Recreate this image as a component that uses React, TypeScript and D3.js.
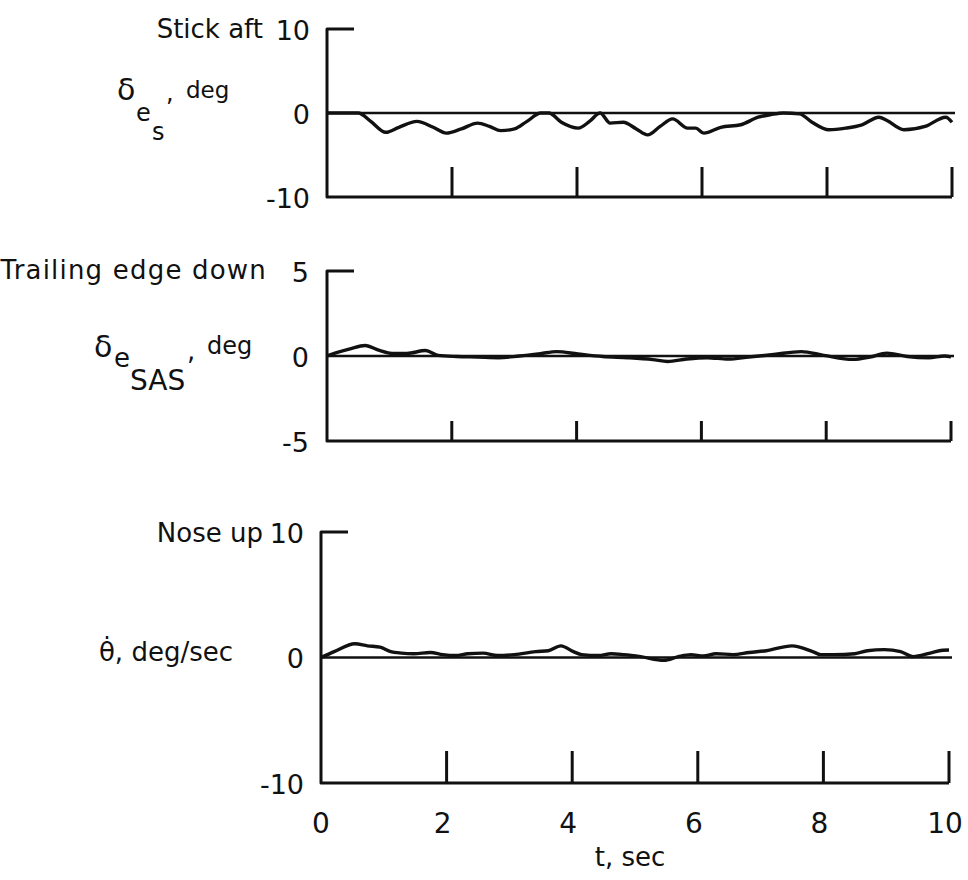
import React from 'react';
import * as d3 from 'd3';

// time axis
const xTicks = [0, 2, 4, 6, 8, 10];
const xTickLabels = ['0', '2', '4', '6', '8', '10'];

// stick deflection, deg
const stickT = [0, 0.5, 0.7, 0.94, 1.15, 1.44, 1.7, 1.91, 2.15, 2.41, 2.6, 2.78, 3.0, 3.2, 3.42, 3.55, 3.75, 4.02, 4.2, 4.37, 4.53, 4.74, 4.95, 5.13, 5.33, 5.53, 5.77, 5.9, 6.03, 6.3, 6.62, 6.9, 7.1, 7.3, 7.56, 7.76, 8.03, 8.3, 8.56, 8.83, 8.96, 9.23, 9.57, 9.9, 10];
const stickV = [0, 0, -1.0, -2.3, -1.7, -1.0, -1.7, -2.4, -1.9, -1.2, -1.6, -2.1, -1.9, -1.0, 0, 0, -1.1, -1.8, -1.0, 0, -1.2, -1.1, -1.9, -2.6, -1.6, -0.7, -1.8, -1.8, -2.4, -1.7, -1.4, -0.5, -0.2, 0, -0.1, -1.1, -2.0, -1.8, -1.4, -0.5, -0.9, -2.0, -1.6, -0.5, -1.1];

// SAS elevator, deg
const sasT = [0, 0.14, 0.37, 0.61, 0.84, 1.04, 1.28, 1.58, 1.78, 2.08, 2.41, 2.75, 3.08, 3.42, 3.68, 4.02, 4.42, 4.82, 5.22, 5.46, 5.76, 6.09, 6.43, 6.76, 7.16, 7.6, 7.96, 8.43, 8.7, 8.97, 9.3, 9.64, 9.9, 10];
const sasV = [0, 0.18, 0.42, 0.62, 0.33, 0.15, 0.15, 0.32, 0.04, -0.03, -0.06, -0.1, 0, 0.14, 0.26, 0.12, -0.03, -0.1, -0.21, -0.32, -0.18, -0.1, -0.18, -0.06, 0.09, 0.26, 0.04, -0.2, -0.06, 0.17, -0.03, -0.1, 0, -0.05];

// pitch rate, deg/sec
const rateT = [0, 0.21, 0.54, 0.74, 0.94, 1.11, 1.28, 1.48, 1.74, 1.94, 2.14, 2.34, 2.58, 2.81, 3.08, 3.42, 3.62, 3.82, 4.02, 4.15, 4.42, 4.62, 4.82, 5.09, 5.46, 5.69, 5.89, 6.09, 6.29, 6.56, 6.82, 7.09, 7.5, 7.83, 7.96, 8.16, 8.5, 8.7, 8.97, 9.23, 9.43, 9.7, 9.9, 10];
const rateV = [0, 0.47, 1.1, 0.93, 0.82, 0.47, 0.35, 0.3, 0.4, 0.23, 0.16, 0.3, 0.35, 0.16, 0.23, 0.47, 0.54, 0.93, 0.47, 0.23, 0.16, 0.3, 0.23, 0.07, -0.23, 0.07, 0.23, 0.12, 0.3, 0.23, 0.4, 0.54, 0.93, 0.47, 0.23, 0.23, 0.3, 0.54, 0.63, 0.47, 0.07, 0.35, 0.58, 0.6];

const FONT = "'DejaVu Sans', sans-serif";
const INK = '#111';

interface PanelProps {
    t: number[];
    v: number[];
    yMax: number;
    left: number;
    right: number;
    top: number;
    bottom: number;
    tickLen: number;
    labelEnd: number;
    yLabels: string[];
}

const Panel: React.FC<PanelProps> = ({ t, v, yMax, left, right, top, bottom, tickLen, labelEnd, yLabels }) => {
    const x = d3.scaleLinear().domain([0, 10]).range([left, right]);
    const y = d3.scaleLinear().domain([-yMax, yMax]).range([bottom, top]);
    const pts: [number, number][] = t.map((d, i) => [d, v[i]]);
    const line = d3.line<[number, number]>()
        .x(d => x(d[0]))
        .y(d => y(d[1]))
        .curve(d3.curveMonotoneX);

    // short stub at the top, left axis, bottom axis
    const frame = `M${left + 27},${y(yMax)}H${left}V${y(-yMax)}H${x(10)}`;
    const yVals = [yMax, 0, -yMax];

    return (
        <g>
            <path d={frame} fill="none" stroke={INK} strokeWidth={3} strokeLinejoin="round" />
            {xTicks.slice(1).map(d => (
                <line key={d} x1={x(d)} x2={x(d)} y1={y(-yMax)} y2={y(-yMax) - tickLen}
                    stroke={INK} strokeWidth={3} />
            ))}
            <line x1={left} x2={right + 3} y1={y(0)} y2={y(0)} stroke={INK} strokeWidth={2.5} />
            <path d={line(pts) || ''} fill="none" stroke={INK} strokeWidth={3.4} strokeLinejoin="round" />
            {yVals.map((d, i) => (
                <text key={d} x={labelEnd} y={y(d) + 1} textAnchor="end" dominantBaseline="central"
                    fontFamily={FONT} fontSize={27} fill={INK}>{yLabels[i]}</text>
            ))}
        </g>
    );
};

const App: React.FC = () => {
    const xAxis = d3.scaleLinear().domain([0, 10]).range([321, 949]);
    return (
        <svg width={968} height={880} style={{ position: 'absolute', left: 0, top: 0, background: '#fff' }}>
            <Panel t={stickT} v={stickV} yMax={10} left={327} right={952} top={29} bottom={197}
                tickLen={30} labelEnd={310} yLabels={['10', '0', '-10']} />
            <Panel t={sasT} v={sasV} yMax={5} left={327} right={951} top={271} bottom={441}
                tickLen={20} labelEnd={309} yLabels={['5', '0', '-5']} />
            <Panel t={rateT} v={rateV} yMax={10} left={321} right={949} top={532} bottom={783}
                tickLen={32} labelEnd={304} yLabels={['10', '0', '-10']} />

            {/* panel 1 labels */}
            <text x={263} y={38} textAnchor="end" fontFamily={FONT} fontSize={26} fill={INK}>Stick aft</text>
            <text fontFamily={FONT} fill={INK}>
                <tspan x={117} y={100} fontSize={30}>δ</tspan>
                <tspan x={136} y={121} fontSize={24}>e</tspan>
                <tspan x={152} y={140} fontSize={24}>s</tspan>
                <tspan x={166} y={101} fontSize={24}>,</tspan>
                <tspan x={186} y={98} fontSize={23}>deg</tspan>
            </text>

            {/* panel 2 labels */}
            <text x={267} y={279} textAnchor="end" fontFamily={FONT} fontSize={26} letterSpacing={1.2} fill={INK}>Trailing edge down</text>
            <text fontFamily={FONT} fill={INK}>
                <tspan x={94} y={357} fontSize={30}>δ</tspan>
                <tspan x={114} y={367} fontSize={26}>e</tspan>
                <tspan x={130} y={390} fontSize={28}>SAS</tspan>
                <tspan x={187} y={360} fontSize={26}>,</tspan>
                <tspan x={207} y={354} fontSize={24}>deg</tspan>
            </text>

            {/* panel 3 labels */}
            <text x={263} y={542} textAnchor="end" fontFamily={FONT} fontSize={26} fill={INK}>Nose up</text>
            <text x={233} y={661} textAnchor="end" fontFamily={FONT} fontSize={26} fill={INK}>θ̇, deg/sec</text>

            {/* time axis */}
            {xTicks.map((d, i) => (
                <text key={d} x={xAxis(d) - (d === 0 ? 0 : 4)} y={823} textAnchor="middle" dominantBaseline="central"
                    fontFamily={FONT} fontSize={28} fill={INK}>{xTickLabels[i]}</text>
            ))}
            <text x={630} y={866} textAnchor="middle" fontFamily={FONT} fontSize={26} fill={INK}>t, sec</text>
        </svg>
    );
};

export default App;
